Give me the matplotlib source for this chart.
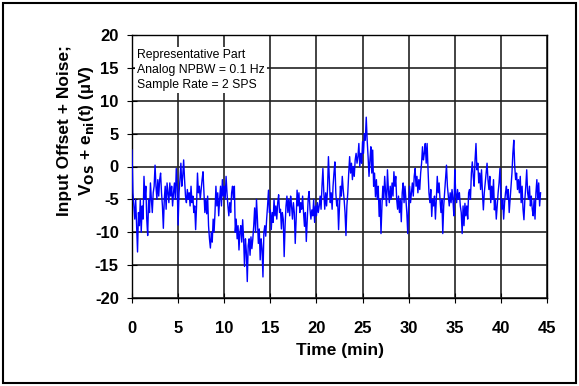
import numpy as np
import matplotlib
matplotlib.use("Agg")
import matplotlib.pyplot as plt
from matplotlib.patches import Rectangle

plt.rcParams['font.family'] = ['Liberation Sans', 'DejaVu Sans']
plt.rcParams['axes.unicode_minus'] = False

# Time step of the read-off trace (min) and values (uV)
t_start = 0.0
t_step = 0.1
noise_uv = [
    # 0-1
    2.5, -4, -6, -8, -5, -9, -13, -7, -9, -5,
    # 1-2
    -10, -6, -8, -1.5, -5, -3, -8, -10.5, -5, -7,
    # 2-3
    -2.5, -5, -7, -4, -3, 0.2, -3, -5, -2, -4.5,
    # 3-4
    -2, -1, -4, -6, -9.4, -5, -3, -6.5, -2.5, -4,
    # 4-5
    -5.5, -2.5, -4.5, -3, -6, -4, -2.5, -5, -0.3, -3,
    # 5-6
    -8.9, -4, -2, 0.5, -3, -1.5, 1.0, -2, -4.5, -5.5,
    # 6-7
    -3.5, -5, -4, -6, -3, -5.5, -4.5, -7, -6, -9.6,
    # 7-8
    -6, -1, -4, -3, -5, -3.5, -2, -0.8, -4, -7,
    # 8-9
    -5, -7.2, -4.5, -9, -11, -12.4, -10, -11.5, -8, -10,
    # 9-10
    -7, -3, -6, -4, -7.5, -5, -3, -6, -2, -4.5,
    # 10-11
    -3, -5, -1.5, -4, -6, -7.5, -5.5, -7, -4, -3,
    # 11-12
    -5, -3, -10, -8, -11, -9, -12.7, -10, -9, -11.5,
    # 12-13
    -8.1, -11, -15.2, -11, -13, -17.5, -12, -11, -13.5, -10.7,
    # 13-14
    -12.5, -11, -9, -6.3, -10, -5, -8, -11.7, -9.5, -14.2,
    # 14-15
    -11, -12.5, -16.8, -10, -9, -10.6, -8, -6, -3.6, -7,
    # 15-16
    -6.6, -9.6, -7, -8.5, -5, -7.5, -6, -8, -5.5, -4.3,
    # 16-17
    -7, -6.5, -9.5, -7, -8, -13.7, -9, -6, -4.5, -7,
    # 17-18
    -5, -7.5, -4.5, -6, -8, -5.5, -7, -11.7, -8, -3.6,
    # 18-19
    -6, -4, -7, -5.5, -6.5, -4.5, -7, -9.1, -7, -11.4,
    # 19-20
    -8, -5, -3.8, -6.5, -8, -6.6, -7.5, -5, -8.5, -6,
    # 20-21
    -7.5, -5.5, -7, -6, -4.5, -6.5, -3, -0.3, -4, -6.5,
    # 21-22
    -4, -6, -3.5, 1.5, -2, -5.5, -4, -6.5, -3, -1,
    # 22-23
    0.7, -4, -6, -5, -9.6, -6, -3, -4.5, -1.5, -3.5,
    # 23-24
    -5, -7, -10.5, -6, -4, -1, 1.5, -1, 0.5, -2,
    # 24-25
    0, -1.5, 1, 2, 0.5, 1.5, 3.5, 0, 2, 0.5,
    # 25-26
    3.8, 2, 5, 4, 7.5, 4, 1.5, -1.5, 1, 3,
    # 26-27
    -1, 2.5, -3, -1, -4.6, -2, -5, -3, -7.6, -5,
    # 27-28
    -10.2, -6, -3, -5, -1.5, -4, -6, -0.5, -3.5, -5.5,
    # 28-29
    -3, -5, -2.5, -4.5, -0.8, -3, -1.5, -5, -6.5, -4.5,
    # 29-30
    -7, -5, -8.4, -4, -2.5, -5.5, -3, -5, -7, -10.2,
    # 30-31
    -6, -3, -5.5, -4, -2.5, -4.5, -1.5, -0.3, -3, -1.5,
    # 31-32
    -4, -2, -3.5, -1, 0.5, 3, 1, 2, 3.5, 0.5,
    # 32-33
    3.5, -0.5, -4, -5.5, -3.5, -7.6, -5, -6, -4.5, -8,
    # 33-34
    -5, -1.5, -4, -2.5, -5, -7, -5, -10.2, -6, -4,
    # 34-35
    -2, 0.2, -3, -4.5, -6, -4, -5.5, -3.5, -5, -7.5,
    # 35-36
    -0.5, -4, -5.5, -3.5, -5, -4, -6, -7, -10.2, -6,
    # 36-37
    -9, -5.6, -7.5, -6, -8, -4, -3.5, -5, -1, 0.7,
    # 37-38
    -1.5, -3, 1, 3.5, -0.5, 0.5, -2.5, -1, -3.5, -0.5,
    # 38-39
    -4, -6.6, -4, -2.5, -1, 0.5, -2, -3.5, -1.5, -5.5,
    # 39-40
    -3, -5, -2, -6.6, -5, -8, -6, -4, -2.5, -0.3,
    # 40-41
    -4, -6.5, -5, -8, -5.5, -4, -3, -5, -3.5, -7,
    # 41-42
    -5, -3, -1, 2, 4, 0, -2, -1, -3.5, -2,
    # 42-43
    -4, -1.5, -5.5, -3, -6.5, -8.1, -5, -3, -0.5, -4,
    # 43-44.3
    -5, -3, -6, -4.5, -6.5, -7.5, -5, -8, -4, -2,
    -5, -2.5, -6, -4,
]
time_min = t_start + t_step * np.arange(len(noise_uv))

x_ticks = [0, 5, 10, 15, 20, 25, 30, 35, 40, 45]
y_ticks = [-20, -15, -10, -5, 0, 5, 10, 15, 20]
annotation = "Representative Part\nAnalog NPBW = 0.1 Hz\nSample Rate = 2 SPS"

fig = plt.figure(figsize=(5.79, 3.86), dpi=100)
ax = fig.add_axes([132/579, 1-298/386, (547-132)/579, (298-35)/386])

ax.plot(time_min, noise_uv, color='#0000FF', lw=1.0, zorder=3)

ax.set_xlim(0, 45)
ax.set_ylim(-20, 20)
ax.set_xticks(x_ticks)
ax.set_yticks(y_ticks)
ax.grid(True, color='#222222', lw=1.2, zorder=1)
ax.set_axisbelow(True)
for s in ax.spines.values():
    s.set_color('black')
    s.set_linewidth(1.0)
ax.tick_params(direction='inout', length=7, width=0.8, labelsize=12)
ax.tick_params(axis='y', pad=6)
ax.tick_params(axis='x', pad=13)
for lab in ax.get_xticklabels() + ax.get_yticklabels():
    lab.set_fontweight('bold')

ax.set_xlabel('Time (min)', fontsize=12.5, fontweight='bold', labelpad=5)
ax.set_ylabel('Input Offset + Noise;\nV$_{\\mathbf{OS}}$ + e$_{\\mathbf{ni}}$(t) (µV)',
              fontsize=12.5, fontweight='bold', linespacing=1.35)
ax.yaxis.set_label_coords((96 - 132) / 415, (298 - 131) / 263)

ax.text(0.012, 0.948, annotation, transform=ax.transAxes, fontsize=8.8,
        va='top', ha='left', linespacing=1.35, zorder=4,
        bbox=dict(facecolor='white', edgecolor='none', pad=1.5))

fig.patches.append(Rectangle((3/579, 3/386), 573/579, 380/386, transform=fig.transFigure,
                             fill=False, edgecolor='black', lw=1.5))

fig.savefig('out.png', dpi=100)
